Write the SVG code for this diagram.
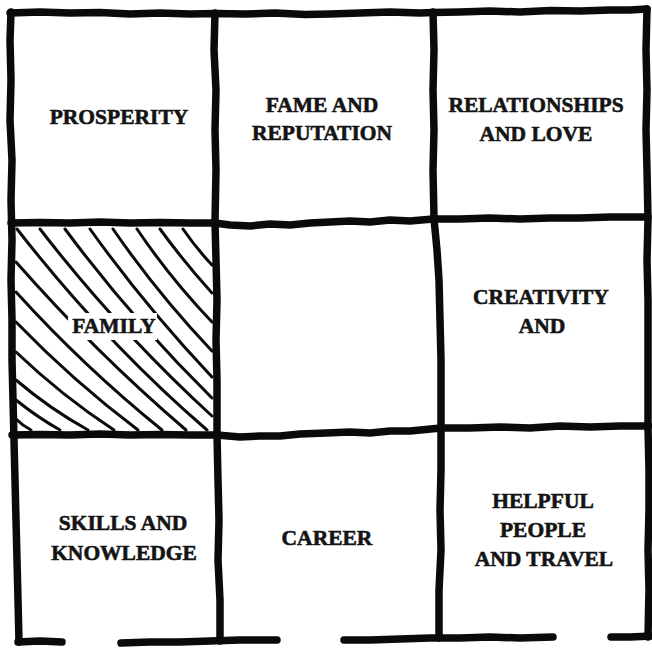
<svg xmlns="http://www.w3.org/2000/svg" width="652" height="648" viewBox="0 0 652 648">
  <style>
    .lbl { font-family: "Liberation Serif", "Times New Roman", serif; font-weight: bold; font-size: 21.5px; fill: #141414; stroke: #141414; stroke-width: 0.6; text-anchor: middle; }
    .grid { fill: none; stroke: #0a0a0a; stroke-width: 7.5; stroke-linecap: round; stroke-linejoin: round; }
    .hatch { fill: none; stroke: #0a0a0a; stroke-width: 3; stroke-linecap: round; }
  </style>
  <rect x="0" y="0" width="652" height="648" fill="#ffffff"/>

  <g id="family">
    <g id="family-hatch">
      <path class="hatch" d="M183,229 Q196,248 212,265"/>
      <path class="hatch" d="M160,229 Q184,262 212,293"/>
      <path class="hatch" d="M137,229 Q170,278 212,322"/>
      <path class="hatch" d="M113,229 Q157,293 212,351"/>
      <path class="hatch" d="M90,229 Q145,306 212,377"/>
      <path class="hatch" d="M65,229 Q131,318 212,398"/>
      <path class="hatch" d="M40,229 Q118,330 212,416"/>
      <path class="hatch" d="M17,229 Q105,342 207,430"/>
      <path class="hatch" d="M16,262 Q95,352 186,430"/>
      <path class="hatch" d="M16,292 Q84,367 162,430"/>
      <path class="hatch" d="M16,322 Q73,381 138,430"/>
      <path class="hatch" d="M16,352 Q62,396 114,430"/>
      <path class="hatch" d="M16,380 Q50,409 88,430"/>
      <path class="hatch" d="M16,400 Q37,417 60,430"/>
      <path class="hatch" d="M16,419 Q23,426 31,430"/>
    </g>
    <rect x="68" y="313" width="89" height="27" fill="#ffffff"/>
    <text class="lbl" x="114" y="333">FAMILY</text>
  </g>

  <g id="prosperity"><text class="lbl" x="119" y="124">PROSPERITY</text></g>
  <g id="fame"><text class="lbl" x="322" y="112">FAME AND</text><text class="lbl" x="322" y="140">REPUTATION</text></g>
  <g id="relationships"><text class="lbl" x="536" y="112">RELATIONSHIPS</text><text class="lbl" x="536" y="141">AND LOVE</text></g>
  <g id="center"></g>
  <g id="creativity"><text class="lbl" x="541" y="304">CREATIVITY</text><text class="lbl" x="542" y="333">AND</text></g>
  <g id="skills"><text class="lbl" x="123" y="530">SKILLS AND</text><text class="lbl" x="124" y="560">KNOWLEDGE</text></g>
  <g id="career"><text class="lbl" x="327" y="545">CAREER</text></g>
  <g id="helpful"><text class="lbl" x="543" y="508">HELPFUL</text><text class="lbl" x="543" y="537">PEOPLE</text><text class="lbl" x="544" y="566">AND TRAVEL</text></g>

  <g id="connectors">
    <path class="grid" d="M10,13 L40,12 L70,13 L100,12.5 L130,14 L160,13 L190,14 L215,13.5 L245,14 L275,13 L305,14.5 L330,14 L360,13 L390,12 L420,13 L433,12.5 L460,12 L490,11 L520,12 L550,10.5 L580,11 L610,10 L630,10 L647,9"/>
    <path class="grid" d="M11,12 L10,40 L11,80 L10,120 L12,160 L11,200 L12,240 L11,280 L12,320 L12,360 L13,400 L14,440 L15,480 L16,520 L17,560 L18,600 L19,642"/>
    <path class="grid" d="M215,13 L214,50 L216,90 L215,130 L216,170 L215,222 L216,260 L217,300 L216,340 L217,380 L217,434 L218,480 L219,520 L218,560 L220,600 L220,641"/>
    <path class="grid" d="M433,12 L434,50 L433,90 L434,130 L433,170 L434,219 L437,250 L439,280 L440,320 L441,360 L441,400 L441,430 L441,470 L440,510 L441,550 L439,590 L439,638"/>
    <path class="grid" d="M647,9 L646,50 L647,90 L646,130 L647,170 L648,219 L647,260 L648,300 L648,340 L648,380 L648,428 L649,470 L649,510 L648,550 L649,590 L648,637"/>
    <path class="grid" d="M11,223 L40,222.5 L70,223 L100,222 L130,223 L160,222.5 L190,223 L215,223 L230,225 L250,226 L270,224 L290,225 L310,223 L330,222 L350,221 L370,222 L390,220 L410,221 L433,219 L460,219 L490,218 L520,219 L550,218 L580,218 L610,217 L648,217"/>
    <path class="grid" d="M12,435 L40,434.5 L70,435 L100,434 L130,435 L160,434.5 L190,435 L217,435 L240,437 L260,436 L280,436 L300,434 L326,433 L350,432 L370,433 L390,431 L410,431 L441,428 L470,428 L500,427 L530,428 L560,426 L590,427 L620,426 L649,426"/>
    <path class="grid" d="M18,642 L40,641 L62,642"/>
    <path class="grid" d="M121,643 L150,642 L180,642 L210,641 L240,640 L260,640 L277,640"/>
    <path class="grid" d="M344,640 L370,640 L400,639 L430,638 L460,638 L490,637 L520,638 L553,637"/>
    <path class="grid" d="M611,637 L630,637 L652,636"/>
  </g>
</svg>
